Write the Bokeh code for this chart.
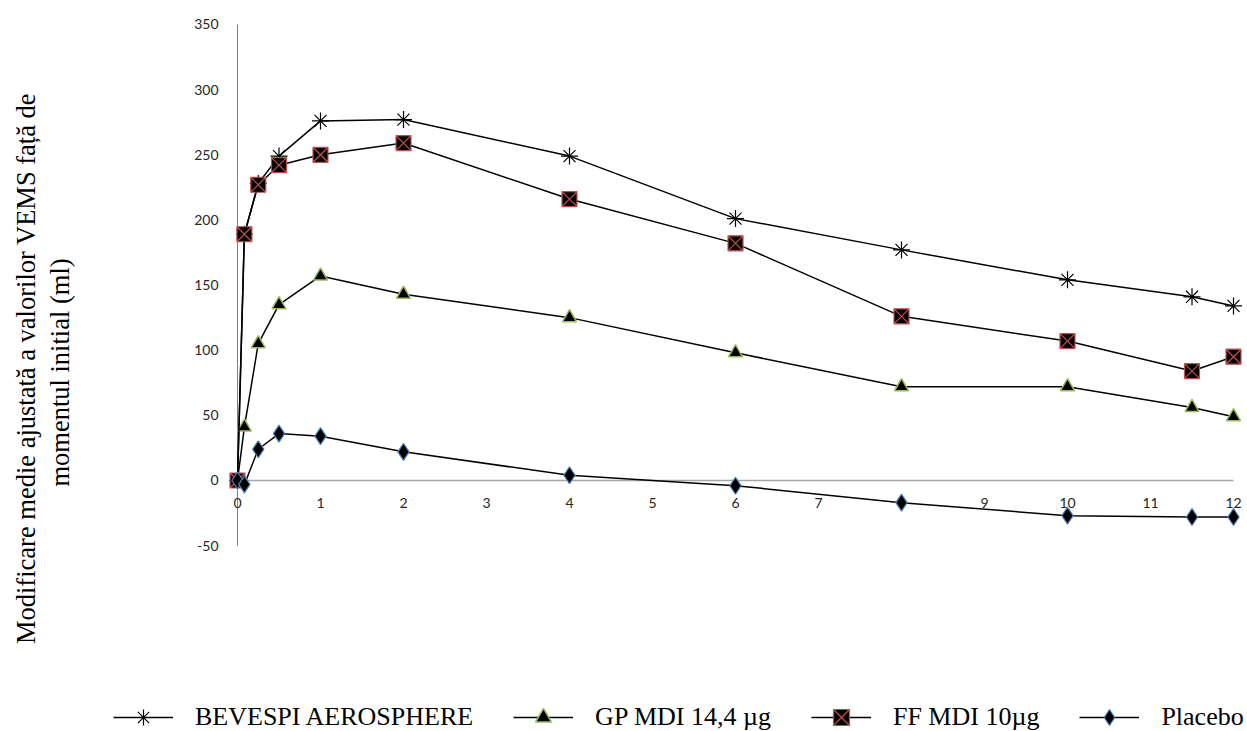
import math
from bokeh.plotting import figure
from bokeh.models import Range1d, Legend, LegendItem, Label
from bokeh.core.properties import value
from bokeh.embed import file_html
from bokeh.resources import INLINE

hours = [0, 0.083, 0.25, 0.5, 1, 2, 4, 6, 8, 10, 11.5, 12]
bevespi = [0, 189, 228, 249, 276, 277, 249, 201, 177, 154, 141, 134]
gp_mdi = [0, 41, 105, 135, 157, 143, 125, 98, 72, 72, 56, 49]
ff_mdi = [0, 189, 227, 242, 250, 259, 216, 182, 126, 107, 84, 95]
placebo = [0, -3, 24, 36, 34, 22, 4, -4, -17, -27, -28, -28]

series_names = ["BEVESPI AEROSPHERE", "GP MDI 14,4 µg", "FF MDI 10µg", "Placebo"]
x_ticks = list(range(0, 13))
y_ticks = [-50, 0, 50, 100, 150, 200, 250, 300, 350]
y_label_lines = ["Modificare medie ajustată a valorilor VEMS față de", "momentul initial (ml)"]

# the frame covers the whole canvas; data scales chosen so that the plot area
# sits where the reference's does
p = figure(frame_width=1247, frame_height=731, output_backend="svg", toolbar_location=None,
           x_range=Range1d(-2.8554, 12.1687), y_range=Range1d(-192.65, 368.41),
           x_axis_location=None, y_axis_location=None,
           min_border_left=0, min_border_right=0, min_border_top=0, min_border_bottom=0)
p.outline_line_color = None
p.grid.visible = False
p.background_fill_color = "white"
p.border_fill_color = "white"

# axis lines
p.segment(x0=[0], y0=[y_ticks[0]], x1=[0], y1=[y_ticks[-1]], line_color="#808080", line_width=1)
p.segment(x0=[x_ticks[0]], y0=[0], x1=[x_ticks[-1]], y1=[0], line_color="#A6A6A6", line_width=1.5)

# tick labels
p.text(x=x_ticks, y=[0] * len(x_ticks), text=[str(t) for t in x_ticks], y_offset=23,
       text_align="center", text_baseline="middle", text_font=value("Lato"),
       text_font_size="14px", text_color="#262626")
p.text(x=[0] * len(y_ticks), y=y_ticks, text=[str(t) for t in y_ticks], x_offset=-19,
       text_align="right", text_baseline="middle", text_font=value("Lato"),
       text_font_size="14px", text_color="#262626")

styles = [
    dict(marker="asterisk", size=17, fill_color="black", line_color="black", line_width=1.2),
    dict(marker="triangle", size=14, fill_color="black", line_color="#9BBB59", line_width=1.5),
    dict(marker="square_x", size=15, fill_color="black", line_color="#C0504D", line_width=1.2),
    dict(marker="diamond", size=17, fill_color="black", line_color="#4F81BD", line_width=1.2),
]
data = [bevespi, gp_mdi, ff_mdi, placebo]

items = []
for name, ys, st in zip(series_names, data, styles):
    ln = p.line(hours, ys, line_color="black", line_width=1.5)
    sc = p.scatter(hours, ys, **st)
    items.append(LegendItem(label=name, renderers=[ln, sc]))

legend = Legend(items=items, orientation="horizontal", location=(113, -6),
                label_text_font="Liberation Serif", label_text_font_size="26px",
                label_text_color="black", glyph_width=60, glyph_height=40,
                label_standoff=22, spacing=40, padding=0, margin=0,
                border_line_color=None, background_fill_alpha=0)
p.add_layout(legend)

# rotated y-axis title, two lines
for txt, xx, yy in zip(y_label_lines, [25, 59], [363, 359]):
    p.add_layout(Label(x=xx, y=yy, x_units="screen", y_units="screen", text=txt,
                       angle=math.pi / 2, text_align="center", text_baseline="alphabetic",
                       text_font="Liberation Serif", text_font_size="26.5px",
                       text_color="black"))

open("out.html", "w").write(file_html(p, INLINE))
